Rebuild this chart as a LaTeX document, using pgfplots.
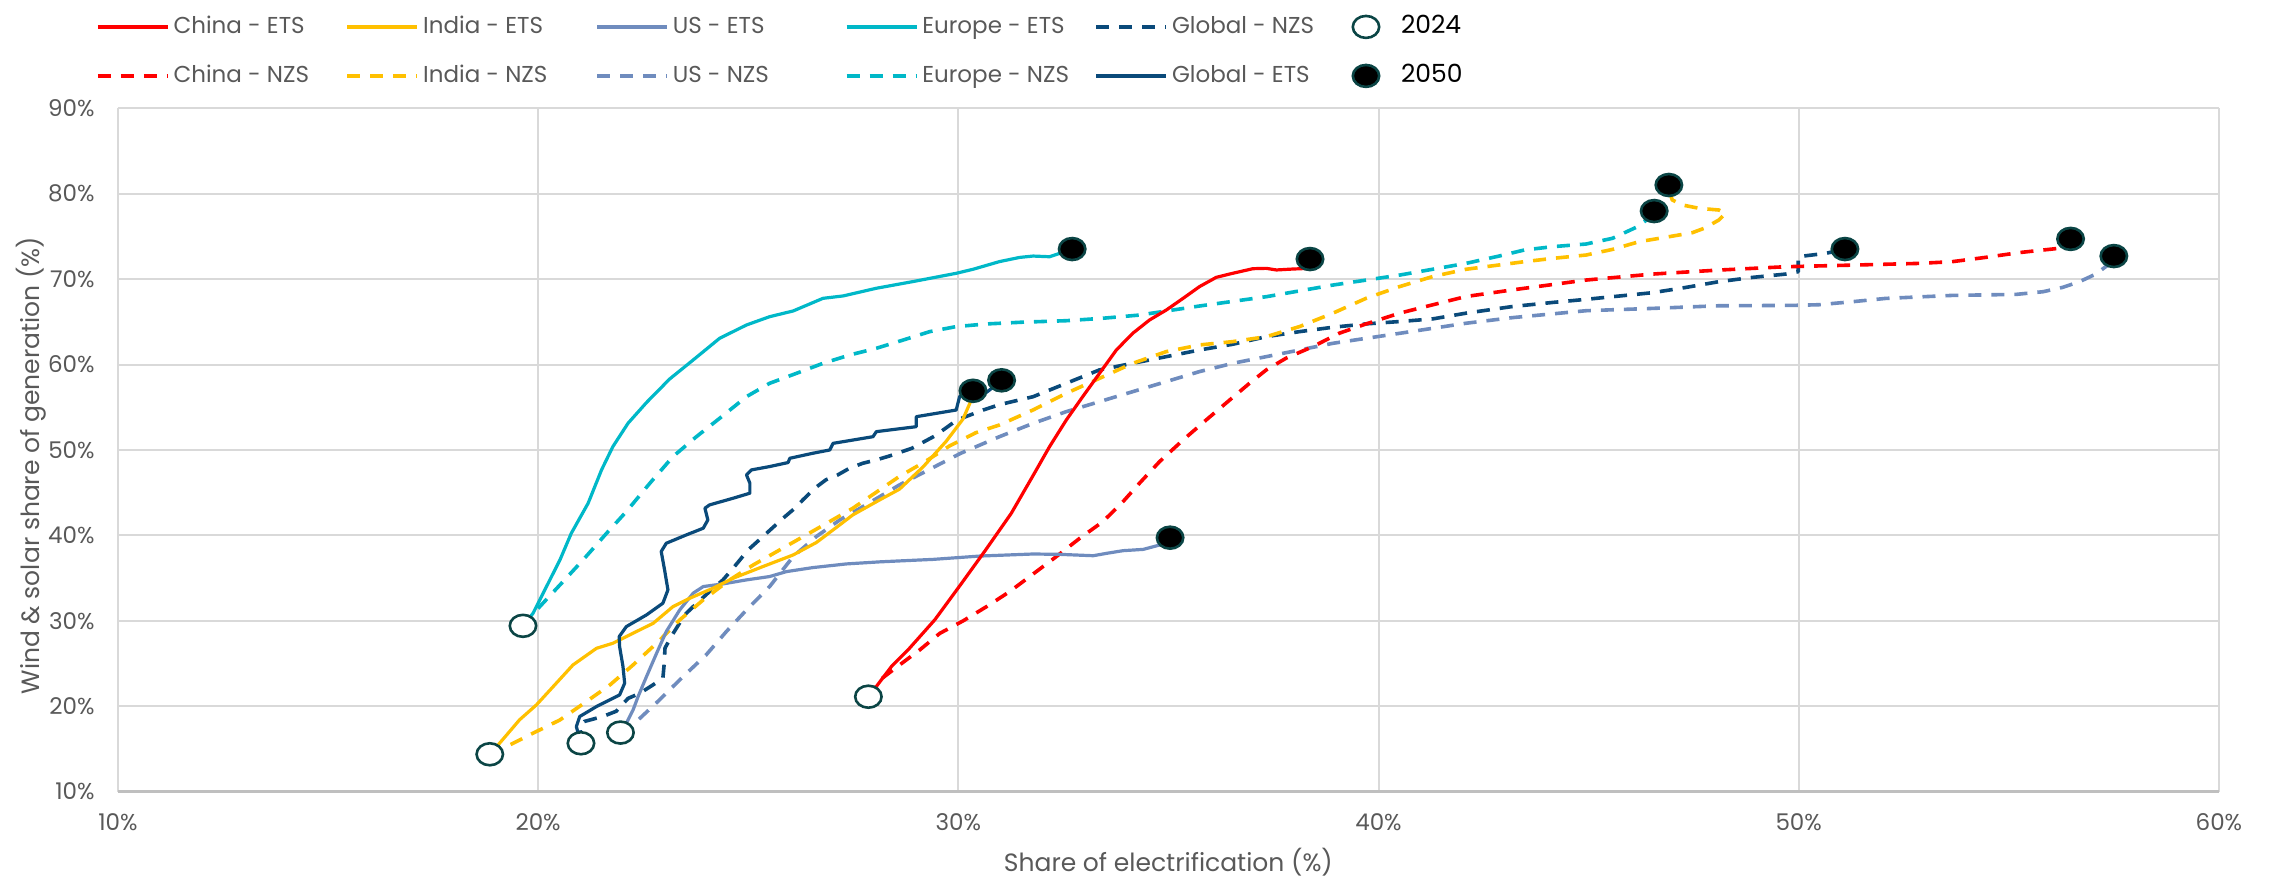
\documentclass[border=0pt]{standalone}
\usepackage{fontspec}
\setmainfont{Poppins}
\usepackage{pgfplots}
\pgfplotsset{compat=1.18}
\definecolor{cChina}{HTML}{FF0000}
\definecolor{cIndia}{HTML}{FFC000}
\definecolor{cUS}{HTML}{6F8CBE}
\definecolor{cEurope}{HTML}{00B8C8}
\definecolor{cGlobal}{HTML}{0A4A7A}
\definecolor{cEdge}{HTML}{0B4545}
\definecolor{cText}{HTML}{595959}
\definecolor{cGrid}{HTML}{D9D9D9}
\definecolor{cAxis}{HTML}{BFBFBF}
\newcommand{\lt}[1]{\makebox[84pt][l]{#1}}
\pgfplotsset{
  ets/.style={line width=1.6pt, line join=round, mark=none},
  nzs/.style={line width=1.8pt, line join=round, mark=none, dash pattern=on 6.5pt off 5pt},
  m24/.style={only marks, mark=*, mark size=5.5pt, mark options={solid, fill=white, draw=cEdge, line width=1.3pt, xscale=1.2}},
  m50/.style={only marks, mark=*, mark size=5.5pt, mark options={solid, fill=black, draw=cEdge, line width=1.3pt, xscale=1.2}},
  markleg/.style={legend image code/.code={\path[draw=none,fill=none] (0pt,0pt) -- (26.5pt,0pt); \path[##1, draw=none] plot coordinates {(11pt,0pt)};}},
}
\begin{document}
\begin{tikzpicture}
\useasboundingbox (0,0) rectangle (1135pt,439pt);
\begin{axis}[
  at={(58.95pt,43.25pt)}, anchor=south west,
  scale only axis, width=1050.55pt, height=341.6pt,
  xmin=10, xmax=60, ymin=10, ymax=90,
  xtick={10,20,...,60}, ytick={10,20,...,90},
  xticklabels={10\%,20\%,30\%,40\%,50\%,60\%},
  yticklabels={10\%,20\%,30\%,40\%,50\%,60\%,70\%,80\%,90\%},
  major tick length=0pt,
  grid=major, grid style={cGrid, line width=1pt},
  axis lines*=left, separate axis lines,
  x axis line style={cAxis, line width=1.4pt},
  y axis line style={draw=none},
  ticklabel style={font=\fontsize{11.5}{13}\selectfont, text=cText},
  xticklabel style={anchor=center, yshift=-15.5pt},
  yticklabel style={anchor=east, inner sep=0pt, xshift=-11.45pt},
  xlabel={Share of electrification (\%)},
  ylabel={Wind \& solar share of generation (\%)},
  label style={font=\fontsize{12.5}{14}\selectfont, text=cText},
  xlabel style={at={(axis description cs:0.5,-0.1032)}, anchor=center},
  ylabel style={at={(axis description cs:-0.04107,0.477)}, anchor=center},
  clip=false,
  legend columns=6,
  legend image code/.code={\draw[#1] (0pt,0pt) -- (35pt,0pt);},
  legend style={at={(0,1)}, anchor=north west, xshift=-10.95pt, yshift=47.45pt,
    draw=none, fill=none, inner sep=0pt, outer sep=0pt, column sep=0pt, row sep=11pt,
    font=\fontsize{11.5}{13}\selectfont, text=cText,
    cells={anchor=west, inner sep=2pt, text height=8pt, text depth=3pt}},
]
% legend entries (row-wise order)
\addlegendimage{ets, cChina}\addlegendentry{\lt{China - ETS}}
\addlegendimage{ets, cIndia}\addlegendentry{\lt{India - ETS}}
\addlegendimage{ets, cUS}\addlegendentry{\lt{US - ETS}}
\addlegendimage{ets, cEurope}\addlegendentry{\lt{Europe - ETS}}
\addlegendimage{nzs, cGlobal}\addlegendentry{\lt{Global - NZS}}
\addlegendimage{m24, markleg}\addlegendentry{{\color{black}\fontsize{12.5}{14}\selectfont 2024}}
\addlegendimage{nzs, cChina}\addlegendentry{\lt{China - NZS}}
\addlegendimage{nzs, cIndia}\addlegendentry{\lt{India - NZS}}
\addlegendimage{nzs, cUS}\addlegendentry{\lt{US - NZS}}
\addlegendimage{nzs, cEurope}\addlegendentry{\lt{Europe - NZS}}
\addlegendimage{ets, cGlobal}\addlegendentry{\lt{Global - ETS}}
\addlegendimage{m50, markleg}\addlegendentry{{\color{black}\fontsize{12.5}{14}\selectfont 2050}}

% Europe NZS
\addplot[nzs, cEurope, forget plot] coordinates {
(19.64,29.4) (20.04,31.65) (20.52,34.19) (21.07,37.12) (21.63,40.24) (22.10,42.78) (22.66,46.1) (23.21,49.22) (23.77,51.56) (24.32,53.7) (24.96,56.24) (25.51,57.8) (26.15,58.97) (26.78,60.14) (27.42,61.12) (28.05,61.9) (28.69,62.87) (29.32,63.85) (29.95,64.44) (30.67,64.75) (31.5,64.95) (32.57,65.13) (33.4,65.4) (34.31,65.79) (35.74,66.85) (37.33,67.94) (38.91,69.3) (40.5,70.47) (42.08,71.84) (42.87,72.7) (43.47,73.41) (44.15,73.8) (44.94,74.11) (45.57,74.78) (46.13,76.06) (46.44,77.12) (46.56,77.97)
};
% US NZS
\addplot[nzs, cUS, forget plot] coordinates {
(21.96,16.9) (22.34,18.19) (22.89,20.73) (23.45,23.46) (24.0,26.0) (24.48,28.73) (24.96,31.26) (25.51,34.0) (26.07,37.51) (26.62,39.85) (27.18,41.8) (27.73,43.36) (28.6,45.9) (30.05,49.59) (30.98,51.55) (31.78,53.11) (32.57,54.48) (33.36,55.65) (34.15,56.82) (34.95,58.0) (35.74,59.17) (36.53,60.14) (37.33,60.92) (38.12,61.7) (38.91,62.48) (39.71,63.07) (40.5,63.65) (41.29,64.24) (42.08,64.83) (43.19,65.49) (44.94,66.3) (46.52,66.57) (48.1,66.88) (49.85,66.92) (50.48,67.0) (51.27,67.35) (52.07,67.74) (53.65,68.09) (55.17,68.21) (55.81,68.52) (56.28,69.03) (56.68,69.69) (57.07,70.59) (57.4,71.8)
};
% Global NZS
\addplot[nzs, cGlobal, forget plot] coordinates {
(21.02,15.65) (21.0,17.5) (21.1,18.2) (21.55,18.8) (21.86,19.4) (22.14,20.9) (22.42,21.5) (22.74,22.5) (22.97,23.3) (23.0,24.9) (23.02,26.8) (23.2,28.4) (23.49,30.68) (23.69,31.65) (24.1,33.5) (24.4,34.78) (24.64,36.14) (25.0,38.3) (25.35,39.85) (25.83,42.0) (26.11,43.17) (26.3,44.14) (26.58,45.5) (26.85,46.5) (27.13,47.07) (27.41,47.85) (27.73,48.44) (28.05,48.83) (28.37,49.3) (28.9,50.2) (29.44,51.63) (29.97,53.5) (30.59,54.67) (30.98,55.3) (31.78,56.23) (32.57,57.8) (33.36,59.37) (34.15,60.14) (34.95,60.92) (35.74,61.7) (36.53,62.37) (37.33,63.26) (38.12,63.85) (38.91,64.36) (39.71,64.76) (40.5,65.03) (41.29,65.34) (42.08,66.01) (43.19,66.79) (44.15,67.27) (44.94,67.63) (45.73,68.02) (46.52,68.41) (47.32,69.03) (48.1,69.7) (48.9,70.2) (49.69,70.59) (49.99,70.87) (49.99,72.63) (50.33,72.83) (50.65,73.02) (51.1,73.52)
};
% India NZS
\addplot[nzs, cIndia, forget plot] coordinates {
(18.85,14.36) (19.25,15.26) (19.88,16.83) (20.52,18.38) (21.15,20.53) (21.71,22.48) (22.26,24.82) (22.82,27.36) (23.37,30.09) (23.93,32.44) (24.56,34.78) (25.12,36.53) (25.75,38.29) (26.31,39.85) (26.94,41.61) (27.49,43.17) (28.13,45.32) (28.6,46.9) (29.2,48.6) (29.79,50.46) (30.42,52.02) (30.98,52.92) (31.78,54.68) (32.57,56.63) (33.36,58.38) (34.15,60.14) (34.95,61.51) (35.74,62.29) (36.53,62.68) (37.33,63.26) (38.12,64.44) (38.91,66.0) (39.71,67.76) (40.5,69.12) (41.29,70.3) (42.08,71.15) (43.19,71.86) (43.47,72.04) (44.15,72.43) (44.94,72.82) (45.57,73.48) (46.2,74.38) (46.92,74.97) (47.47,75.44) (47.75,75.95) (48.1,76.92) (48.26,77.7) (48.1,78.09) (47.63,78.29) (47.23,78.68) (46.99,79.27) (46.91,80.5)
};
% China NZS
\addplot[nzs, cChina, forget plot] coordinates {
(27.86,21.1) (28.2,23.3) (28.6,24.81) (29.08,26.57) (29.56,28.52) (30.11,29.97) (30.67,31.64) (31.22,33.4) (31.78,35.47) (32.33,37.5) (32.89,39.65) (33.44,41.6) (33.92,43.94) (34.31,46.09) (34.79,48.63) (35.35,51.17) (35.9,53.51) (36.46,55.85) (36.93,57.8) (37.33,59.37) (37.8,60.74) (38.44,62.1) (39.07,63.67) (39.71,64.76) (40.5,66.01) (41.29,66.99) (42.08,67.96) (43.19,68.74) (44.94,69.89) (46.52,70.59) (48.1,71.06) (49.69,71.45) (51.28,71.64) (52.86,71.84) (53.65,72.04) (54.44,72.54) (55.24,73.1) (56.2,73.61) (56.4,73.9)
};
% Europe ETS
\addplot[ets, cEurope, forget plot] coordinates {
(19.64,29.4) (19.88,30.87) (20.2,34.0) (20.52,37.12) (20.79,40.24) (21.19,43.75) (21.51,47.66) (21.78,50.39) (22.14,53.12) (22.58,55.55) (23.13,58.3) (23.69,60.53) (24.32,63.07) (24.96,64.63) (25.51,65.6) (26.07,66.27) (26.78,67.75) (27.26,68.03) (28.05,68.93) (28.92,69.71) (29.95,70.68) (30.35,71.15) (30.98,72.05) (31.46,72.54) (31.78,72.7) (32.17,72.62) (32.41,73.01) (32.71,73.52)
};
% US ETS
\addplot[ets, cUS, forget plot] coordinates {
(21.96,16.9) (22.10,17.99) (22.26,19.55) (22.38,21.12) (22.58,23.46) (22.82,26.19) (23.05,28.73) (23.37,31.26) (23.69,33.22) (23.93,34.0) (24.4,34.31) (24.96,34.78) (25.51,35.17) (25.91,35.75) (26.54,36.22) (27.34,36.65) (28.13,36.89) (28.6,37.0) (29.4,37.18) (30.51,37.57) (31.78,37.81) (32.41,37.77) (33.21,37.61) (33.52,37.88) (33.92,38.2) (34.4,38.35) (34.79,38.86) (35.04,39.72)
};
% India ETS
\addplot[ets, cIndia, forget plot] coordinates {
(18.85,14.36) (19.05,15.46) (19.56,18.4) (19.96,20.14) (20.36,22.29) (20.83,24.82) (21.39,26.77) (21.78,27.36) (22.18,28.34) (22.74,29.70) (23.21,31.65) (23.61,32.63) (24.16,33.80) (24.64,34.97) (25.35,36.34) (26.07,37.70) (26.62,39.15) (27.02,40.63) (27.49,42.39) (28.13,44.15) (28.6,45.4) (29.16,48.0) (29.71,51.0) (30.11,53.6) (30.29,55.63) (30.35,56.92)
};
% Global ETS
\addplot[ets, cGlobal, forget plot] coordinates {
(21.02,15.65) (20.91,17.6) (20.99,18.78) (21.39,19.95) (21.94,21.31) (22.06,22.68) (22.02,24.63) (21.94,26.97) (21.93,28.14) (22.10,29.31) (22.58,30.68) (22.97,32.05) (23.09,33.61) (23.01,35.95) (22.93,38.10) (23.05,39.07) (23.53,40.05) (23.93,40.83) (24.04,41.80) (23.97,43.17) (24.08,43.56) (24.64,44.34) (25.04,44.93) (25.04,46.10) (24.96,47.07) (25.08,47.66) (25.51,48.05) (25.95,48.52) (25.99,49.02) (26.54,49.61) (26.94,49.99) (27.02,50.77) (27.97,51.55) (28.05,52.14) (29.0,52.72) (29.0,53.89) (29.95,54.67) (30.03,56.23) (30.1,56.5) (30.67,56.74) (31.03,58.1)
};
% China ETS
\addplot[ets, cChina, forget plot] coordinates {
(27.86,21.1) (28.05,22.3) (28.41,24.64) (28.84,26.78) (29.44,30.1) (30.05,34.19) (30.65,38.28) (31.26,42.57) (31.78,47.0) (32.17,50.37) (32.57,53.5) (32.96,56.23) (33.36,58.96) (33.76,61.69) (34.15,63.65) (34.55,65.21) (34.95,66.38) (35.35,67.75) (35.74,69.12) (36.14,70.21) (36.53,70.68) (37.01,71.22) (37.33,71.26) (37.57,71.07) (37.96,71.18) (38.36,71.26) (38.6,71.6)
};
% 2024 markers
\addplot[m24, forget plot] coordinates {
(18.85,14.36) (19.64,29.4) (21.02,15.65) (21.96,16.9) (27.86,21.1)
};
% 2050 markers
\addplot[m50, forget plot] coordinates {
(32.71,73.52) (38.37,72.35) (30.35,56.92) (31.03,58.15) (35.04,39.72) (46.56,77.97) (46.91,81.02) (51.1,73.52) (56.47,74.71) (57.5,72.7)
};
\end{axis}
\end{tikzpicture}
\end{document}
